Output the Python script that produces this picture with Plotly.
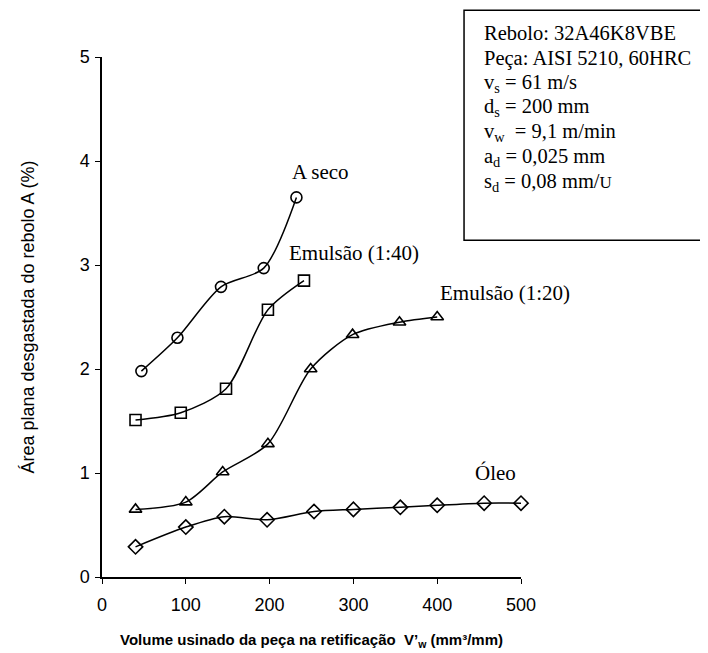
import plotly.graph_objects as go

# Data
seco_x = [47, 90, 142, 193, 232]
seco_y = [1.98, 2.30, 2.79, 2.97, 3.65]

em40_x = [40, 94, 148, 198, 241]
em40_y = [1.51, 1.58, 1.81, 2.57, 2.85]

em20_x = [40, 100, 144, 198, 249, 299, 355, 400]
em20_y = [0.65, 0.72, 1.01, 1.28, 2.00, 2.33, 2.45, 2.50]

oleo_x = [40, 100, 146, 197, 253, 300, 356, 400, 456, 500]
oleo_y = [0.29, 0.48, 0.58, 0.55, 0.63, 0.65, 0.67, 0.69, 0.71, 0.71]

x_ticks = [0, 100, 200, 300, 400, 500]
y_ticks = [0, 1, 2, 3, 4, 5]

series = [
    ("A seco", seco_x, seco_y, "circle-open"),
    ("Emulsão (1:40)", em40_x, em40_y, "square-open"),
    ("Emulsão (1:20)", em20_x, em20_y, "triangle-up-open"),
    ("Óleo", oleo_x, oleo_y, "diamond-open"),
]

fig = go.Figure()
for name, xs, ys, sym in series:
    fig.add_trace(go.Scatter(
        x=xs, y=ys, name=name, mode="lines+markers",
        line=dict(color="black", width=1.5, shape="spline", smoothing=0.8),
        marker=dict(symbol=sym, size=11, color="black", line=dict(width=1.6, color="black")),
        showlegend=False, cliponaxis=False,
    ))

serif = "Liberation Serif, Times New Roman, serif"
sans = "Liberation Sans, Arial, sans-serif"

# curve labels
labels = [
    ("A seco", 224, 3.89),
    ("Emulsão (1:40)", 221, 3.12),
    ("Emulsão (1:20)", 401, 2.73),
    ("Óleo", 443, 1.0),
]
for txt, lx, ly in labels:
    fig.add_annotation(x=lx, y=ly, xref="x", yref="y", text=txt, showarrow=False,
                       xanchor="left", yanchor="middle",
                       font=dict(family=serif, size=21, color="black"))

# page body has an 8px margin; plot area placed at image px 101.7..521 x 56.7..576.7
W, H = 700, 645
L, R, T, B = 93.7, 187, 48.7, 76.3
PL, PB, PW, PH = 101.7, 576.7, 419.3, 520.0

def px2paper(px, py):
    return (px - PL) / PW, (PB - py) / PH

x0, y1 = px2paper(464, 10)
x1, y0 = px2paper(706, 240)
fig.add_shape(type="rect", xref="paper", yref="paper", x0=x0, x1=x1, y0=y0, y1=y1,
              line=dict(color="black", width=1.5), fillcolor="white", layer="above")

box_lines = [
    "Rebolo: 32A46K8VBE",
    "Peça: AISI 5210, 60HRC",
    "v<sub>s</sub> = 61 m/s",
    "d<sub>s</sub> = 200 mm",
    "v<sub>w</sub>  = 9,1 m/min",
    "a<sub>d</sub> = 0,025 mm",
    "s<sub>d</sub> = 0,08 mm/<span style='font-size:17px'>U</span>",
]
box_y = [33, 58, 83, 107, 132, 157, 182]
for txt, py in zip(box_lines, box_y):
    ax, ay = px2paper(482, py)
    fig.add_annotation(x=ax, y=ay, xref="paper", yref="paper", text=txt, showarrow=False,
                       xanchor="left", yanchor="middle",
                       font=dict(family=serif, size=20.5, color="black"))

fig.update_layout(
    width=W, height=H,
    margin=dict(l=L, r=R, t=T, b=B, pad=0, autoexpand=False),
    paper_bgcolor="white", plot_bgcolor="white",
    font=dict(family=sans, color="black"),
)
fig.update_xaxes(
    range=[0, 500], tickvals=x_ticks, ticktext=[str(v) for v in x_ticks],
    showline=True, linecolor="black", linewidth=1.5, ticks="outside", ticklen=5,
    tickcolor="black", tickwidth=1.2, showgrid=False, zeroline=False, automargin=False,
    tickfont=dict(family=sans, size=18), ticklabelstandoff=6,
    title=dict(text="<b>Volume usinado da peça na retificação  V’<sub>w</sub> (mm³/mm)</b>",
               font=dict(family=sans, size=15), standoff=20),
)
fig.update_yaxes(
    range=[0, 5], tickvals=y_ticks, ticktext=[str(v) for v in y_ticks],
    showline=True, linecolor="black", linewidth=1.5, ticks="outside", ticklen=5,
    tickcolor="black", tickwidth=1.2, showgrid=False, zeroline=False, automargin=False,
    tickfont=dict(family=sans, size=18), ticklabelstandoff=2,
    title=dict(text="Área plana desgastada do rebolo A (%)",
               font=dict(family=sans, size=18), standoff=40),
)

fig.write_html("out.html")
